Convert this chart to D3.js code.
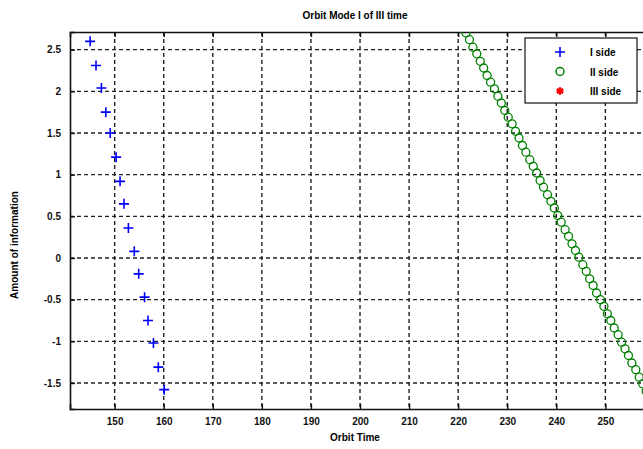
<!DOCTYPE html>
<html>
<head>
<meta charset="utf-8">
<script src="https://cdn.jsdelivr.net/npm/d3@7"></script>
<style>
  body { margin: 0; background: #fff; }
  text { font-family: "Liberation Sans", Arial, sans-serif; }
</style>
</head>
<body>
<svg class="container"></svg>
<script>
// series I side (blue +)
const side1X = [145.0, 146.2, 147.3, 148.2, 149.1, 150.3, 151.1, 151.9, 152.8, 154.0, 154.9, 156.1, 156.8, 157.9, 158.9, 160.1];
const side1Y = [2.60, 2.31, 2.04, 1.75, 1.50, 1.21, 0.92, 0.65, 0.36, 0.08, -0.19, -0.47, -0.75, -1.02, -1.31, -1.58];

// series II side (green circles)
const side2X = [221.6, 222.3, 223.0, 223.8, 224.5, 225.2, 225.9, 226.6, 227.4, 228.1, 228.8, 229.5, 230.2,
  231.0, 231.7, 232.4, 233.1, 233.8, 234.6, 235.3, 236.0, 236.7, 237.4, 238.2, 238.9, 239.6, 240.3,
  241.0, 241.8, 242.5, 243.2, 243.9, 244.6, 245.4, 246.1, 246.8, 247.5, 248.2, 249.0, 249.7, 250.4,
  251.1, 251.8, 252.6, 253.3, 254.0, 254.7, 255.4, 256.2, 256.9, 257.6, 258.3];
const side2Y = [2.70, 2.62, 2.53, 2.45, 2.36, 2.28, 2.19, 2.11, 2.03, 1.94, 1.86, 1.77, 1.69,
  1.61, 1.52, 1.44, 1.35, 1.27, 1.18, 1.10, 1.02, 0.93, 0.85, 0.76, 0.68, 0.60, 0.51,
  0.43, 0.34, 0.26, 0.17, 0.09, 0.01, -0.08, -0.16, -0.25, -0.33, -0.42, -0.50, -0.58, -0.67,
  -0.75, -0.84, -0.92, -1.01, -1.09, -1.17, -1.26, -1.34, -1.43, -1.51, -1.60];

const xTicks = [150, 160, 170, 180, 190, 200, 210, 220, 230, 240, 250];
const yTicks = [-1.5, -1, -0.5, 0, 0.5, 1, 1.5, 2, 2.5];
const legendLabels = ["I side", "II side", "III side"];

const width = 643;
const height = 449;
const padL = 70, padT = 32, padB = 409, padR = 652;

const svg = d3.select(".container").attr("width", width).attr("height", height);

const xScale = d3.scaleLinear().domain([140.9, 259.5]).range([padL, padR]);
const yScale = d3.scaleLinear().domain([-1.812, 2.712]).range([padB, padT]);

svg.append("defs").append("clipPath").attr("id", "clip")
  .append("rect").attr("x", padL).attr("y", padT).attr("width", padR - padL).attr("height", padB - padT);

// grid
const grid = svg.append("g").attr("stroke", "#222").attr("stroke-width", 1.4).attr("stroke-dasharray", "4,3");
grid.selectAll(".gx").data(xTicks).enter().append("line")
  .attr("x1", d => xScale(d)).attr("x2", d => xScale(d)).attr("y1", padT).attr("y2", padB);
grid.selectAll(".gy").data(yTicks).enter().append("line")
  .attr("x1", padL).attr("x2", padR).attr("y1", d => yScale(d)).attr("y2", d => yScale(d));

// axes (ticks inside)
const xAxis = svg.append("g").attr("transform", `translate(0,${padB})`)
  .call(d3.axisBottom(xScale).tickValues(xTicks).tickSize(-5).tickPadding(9).tickFormat(d3.format("d")));
const xAxisTop = svg.append("g").attr("transform", `translate(0,${padT})`)
  .call(d3.axisTop(xScale).tickValues(xTicks).tickSize(-5).tickFormat(""));
const yAxis = svg.append("g").attr("transform", `translate(${padL},0)`)
  .call(d3.axisLeft(yScale).tickValues(yTicks).tickSize(-5).tickPadding(9).tickFormat(d => d));
[xAxis, xAxisTop, yAxis].forEach(a => {
  a.selectAll(".domain").attr("stroke", "#111").attr("stroke-width", 1.6);
  a.selectAll(".tick line").attr("stroke", "#111").attr("stroke-width", 1.4);
  a.selectAll("text").attr("font-size", 10).attr("font-weight", "bold").attr("fill", "#111");
});

const plot = svg.append("g").attr("clip-path", "url(#clip)");

// I side: blue plus
plot.selectAll(".p1").data(side1X).enter().append("path")
  .attr("d", "M-5,0H5M0,-5V5")
  .attr("transform", (d, i) => `translate(${xScale(d)},${yScale(side1Y[i])})`)
  .attr("stroke", "#0000ff").attr("stroke-width", 1.6).attr("fill", "none");

// II side: green circles
plot.selectAll(".p2").data(side2X).enter().append("circle")
  .attr("cx", d => xScale(d)).attr("cy", (d, i) => yScale(side2Y[i])).attr("r", 4)
  .attr("stroke", "#008000").attr("stroke-width", 1.3).attr("fill", "none");

// title and labels
svg.append("text").attr("x", 355).attr("y", 19).attr("text-anchor", "middle")
  .attr("font-size", 10).attr("font-weight", "bold").text("Orbit Mode I of III time");
svg.append("text").attr("x", 355).attr("y", 441).attr("text-anchor", "middle")
  .attr("font-size", 10).attr("font-weight", "bold").text("Orbit Time");
svg.append("text").attr("transform", "translate(18,245) rotate(-90)").attr("text-anchor", "middle")
  .attr("font-size", 10).attr("font-weight", "bold").text("Amount of information");

// legend
const lg = svg.append("g").attr("transform", "translate(525,38)");
lg.append("rect").attr("width", 112).attr("height", 65).attr("fill", "#fff").attr("stroke", "#111").attr("stroke-width", 1.2);
const rows = lg.selectAll(".row").data(legendLabels).enter().append("g")
  .attr("transform", (d, i) => `translate(0,${14 + i * 19.5})`);
rows.append("text").attr("x", 65).attr("y", 4).attr("font-size", 10).attr("font-weight", "bold").text(d => d);
rows.filter((d, i) => i === 0).append("path").attr("d", "M-5,0H5M0,-5V5").attr("transform", "translate(35,0)")
  .attr("stroke", "#0000ff").attr("stroke-width", 1.6);
rows.filter((d, i) => i === 1).append("circle").attr("cx", 35).attr("r", 4)
  .attr("stroke", "#008000").attr("stroke-width", 1.5).attr("fill", "none");
rows.filter((d, i) => i === 2).append("path").attr("d", d3.symbol().type(d3.symbolAsterisk).size(40))
  .attr("transform", "translate(35,0)").attr("stroke", "#ff0000").attr("stroke-width", 2.4).attr("fill", "#ff0000");
</script>
</body>
</html>
